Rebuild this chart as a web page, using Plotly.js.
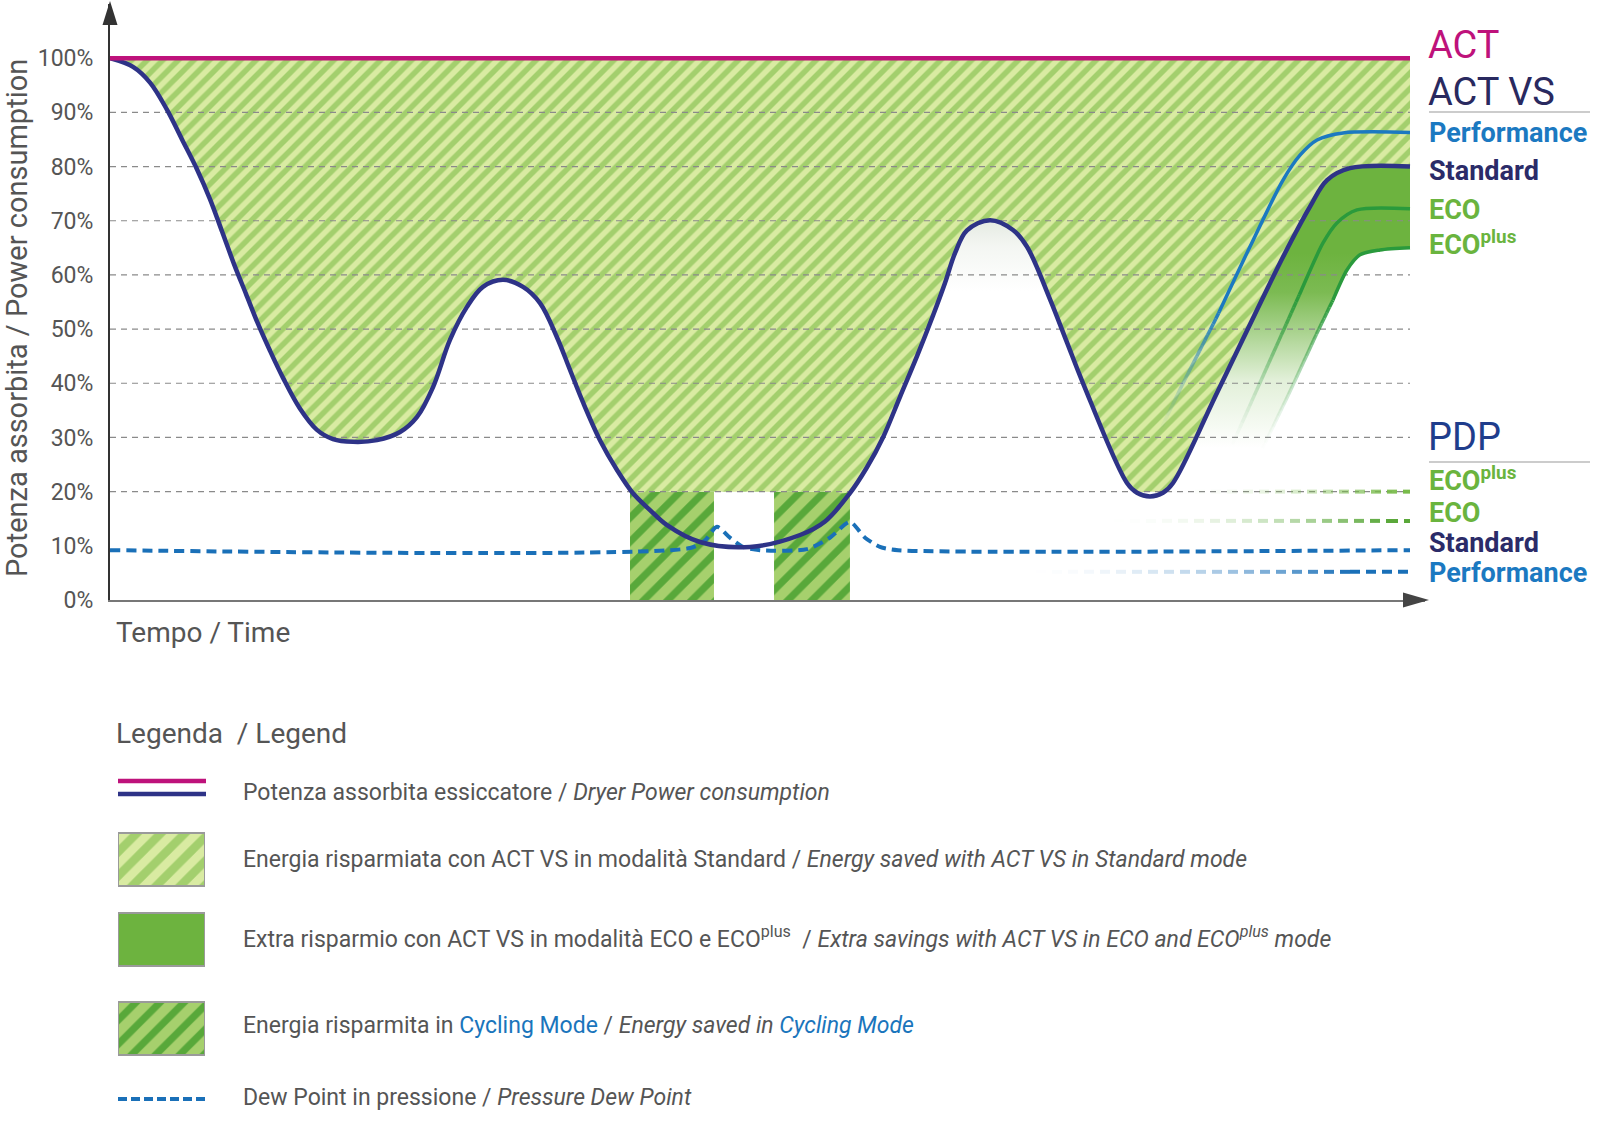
<!DOCTYPE html>
<html><head><meta charset="utf-8">
<script src="https://cdn.plot.ly/plotly-3.0.1.min.js"></script>
<style>html,body{margin:0;padding:0;background:#fff}#chart{width:1600px;height:1141px}</style>
</head><body><div id="chart"></div>
<script>
// ---------------- DATA (time in arbitrary units 0..100, power in %) ----------------
const actTime  = [0, 100];
const actPower = [100, 100];

const stdTime  = [0,1.77,3.08,4.38,5.54,6.69,7.69,8.62,9.54,10.46,11.38,12.31,13.31,14.62,15.92,17.15,18.69,20.54,22.31,23.62,24.85,26.15,27.46,28.69,30.23,31.77,33.08,34.38,35.38,36.38,37.69,39,40.23,41.54,42.85,45.38,49.23,53.08,55,56.85,58.23,59.46,60.77,62.08,63.31,64.23,65,65.92,67.69,69.46,70.54,72.31,73.62,74.85,78.23,79,80,81,81.77,85.15,90.23,92.31,93.62,95.38,100];
const stdPower = [100,98.4,95.5,90.5,85,79.5,74,68,62,56.5,51,46,41,35.3,31.4,29.7,29.2,29.5,31,33.8,39.3,48,54.1,57.8,59.1,57.8,54.8,48.5,42.5,36.5,29.5,24,19.7,16.6,13.8,10.7,9.8,12,14.5,19.5,24.5,30,37.5,45,52.5,58.5,64,68.2,70.1,68.3,65.2,55.5,47.5,40,21.6,19.8,19.1,19.8,21.6,38.2,63.3,72.6,77.5,79.7,80];

const perfTime  = [80.54,82.54,85.15,87.69,90.23,91.54,92.85,94.85,100];
const perfPower = [30.1,40,52.3,65.2,77.5,82.1,84.9,86.2,86.3];

const ecoTime  = [86.15,89,91.54,93.31,94.38,95.92,100];
const ecoPower = [27.7,43,56.6,65.9,69.6,72,72.2];

const ecoPlusTime  = [88.46,90.77,92.85,94.08,95.15,96.15,97.69,100];
const ecoPlusPower = [27,38.5,49.3,55.4,60.9,63.7,64.6,65];

const pdpStdTime  = [0,44.62,45.77,46.69,47.69,48.69,50,53.62,55.38,56.92,58.08,59.23,60.62,100];
const pdpStdValue = [9.2,9.6,11,13.5,11.5,9.8,9.2,9.4,11.5,14.4,11.5,9.8,9.2,9.2];

const pdpPerfTime = [70, 100],   pdpPerfValue = [5.2, 5.2];
const pdpEcoTime = [76, 100],    pdpEcoValue = [14.6, 14.6];
const pdpEcoPlusTime = [81, 100],pdpEcoPlusValue = [20, 20];

const cycleStart = [40, 51.08];
const cycleEnd   = [46.46, 56.92];
const cycleLevel = 20;          // cycling mode window height / savings floor

const gridLevels = [20,30,40,50,60,70,80,90];
const tickValues = [0,10,20,30,40,50,60,70,80,90,100];
const tickLabels = ['0%','10%','20%','30%','40%','50%','60%','70%','80%','90%','100%'];

// ---------------- STYLE / LAYOUT HELPERS ----------------
const W = 1600, H = 1141;
const PXT = 13, PXY = 596/110;
const px = v => v / W, py = v => 1 - v / H;
const SMOOTH = 1.0;

function fadedLine(xs, ys, fadePx, piecePx, power, lineStyle, restShape){
  const P = xs.map((x,i)=>[x*PXT, ys[i]*PXY]);
  const cum=[0];
  for(let i=1;i<P.length;i++) cum.push(cum[i-1]+Math.hypot(P[i][0]-P[i-1][0],P[i][1]-P[i-1][1]));
  const total = cum[cum.length-1];
  fadePx = Math.min(fadePx,total);
  function pointAt(d){
    for(let i=1;i<P.length;i++){ if(d<=cum[i]+1e-9){ const f=(d-cum[i-1])/((cum[i]-cum[i-1])||1); return [xs[i-1]+f*(xs[i]-xs[i-1]), ys[i-1]+f*(ys[i]-ys[i-1])]; } }
    return [xs[xs.length-1], ys[ys.length-1]];
  }
  function slice(d0,d1){
    const a=pointAt(d0), b=pointAt(d1); const X=[a[0]], Y=[a[1]];
    for(let i=0;i<P.length;i++){ if(cum[i]>d0+1e-9 && cum[i]<d1-1e-9){X.push(xs[i]);Y.push(ys[i]);} }
    X.push(b[0]); Y.push(b[1]); return [X,Y];
  }
  const out=[];
  for(let d=0; d<fadePx-1e-6; d+=piecePx){
    const d1=Math.min(d+piecePx,fadePx);
    const s=slice(d,d1);
    out.push({x:s[0],y:s[1],mode:'lines',line:Object.assign({},lineStyle,{shape:'linear'}),
      opacity:Math.pow((d+d1)/2/fadePx,power),hoverinfo:'skip',showlegend:false});
  }
  if(fadePx<total-1e-6){ const s=slice(fadePx,total);
    out.push({x:s[0],y:s[1],mode:'lines',line:Object.assign({},lineStyle,{shape:restShape||'linear',smoothing:0.8}),hoverinfo:'skip',showlegend:false}); }
  return out;
}

const C = {
  act:'#be127b', std:'#2e3387', perf:'#1b79c1', ecoLine:'#2a9a3c', ecoFill:'109,179,63',
  hatchBg:'#d9eba2', hatchFg:'#a3cf6d', cycBg:'#a6d06d', cycFg:'#58a83a', pdp:'#1a70b8',
  ecoTxt:'#6ab43e', grid:'#8a8a8a', text:'#555555'
};

const traces = [];
// baseline for hatch fill
traces.push({x:actTime, y:actPower, mode:'lines', line:{width:0}, hoverinfo:'skip', showlegend:false});
// energy saved in standard mode (hatched), floored at cycling level
traces.push({x:stdTime, y:stdPower.map(v=>Math.max(v,cycleLevel)), mode:'lines', line:{width:0, shape:'spline', smoothing:SMOOTH},
  fill:'tonexty', fillcolor:C.hatchBg,
  fillpattern:{shape:'/', bgcolor:C.hatchBg, fgcolor:C.hatchFg, fgopacity:1, size:11, solidity:0.5, fillmode:'replace'},
  hoverinfo:'skip', showlegend:false});
// soft shading under the 70% peak
const gi0 = stdTime.indexOf(62.08), gi1 = stdTime.indexOf(72.31);
traces.push({x:stdTime.slice(gi0,gi1+1), y:stdPower.slice(gi0,gi1+1), mode:'lines', line:{width:0, shape:'spline', smoothing:SMOOTH},
  fill:'toself', fillgradient:{type:'vertical', start:57, stop:70.5,
    colorscale:[[0,'rgba(210,220,205,0)'],[0.6,'rgba(210,220,205,0.25)'],[1,'rgba(205,215,200,0.55)']]},
  hoverinfo:'skip', showlegend:false});
// extra savings ECO / ECOplus
traces.push({x:ecoPlusTime, y:ecoPlusPower, mode:'lines', line:{width:0, shape:'spline', smoothing:0.8}, hoverinfo:'skip', showlegend:false});
const ri = stdTime.indexOf(81.77);
traces.push({x:stdTime.slice(ri), y:stdPower.slice(ri), mode:'lines', line:{width:0, shape:'spline', smoothing:SMOOTH},
  fill:'tonexty', fillgradient:{type:'vertical', start:28, stop:64,
    colorscale:[[0,'rgba('+C.ecoFill+',0)'],[0.35,'rgba('+C.ecoFill+',0.2)'],[0.8,'rgba('+C.ecoFill+',0.9)'],[1,'rgba('+C.ecoFill+',1)']]},
  hoverinfo:'skip', showlegend:false});
// gridlines
gridLevels.forEach(l=>traces.push({x:[0,100], y:[l,l], mode:'lines', line:{color:C.grid, width:1.2, dash:'6px,5px'}, hoverinfo:'skip', showlegend:false}));
// cycling mode windows
traces.push({type:'bar', x:cycleStart.map((s,i)=>(s+cycleEnd[i])/2), width:cycleStart.map((s,i)=>cycleEnd[i]-s),
  y:cycleStart.map(()=>cycleLevel), base:0,
  marker:{color:C.cycBg, line:{width:0}, pattern:{shape:'/', bgcolor:C.cycBg, fgcolor:C.cycFg, fgopacity:1, size:17, solidity:0.42, fillmode:'replace'}},
  hoverinfo:'skip', showlegend:false});
// PDP lines
traces.push({x:pdpStdTime, y:pdpStdValue, mode:'lines', line:{color:C.pdp, width:4, dash:'10px,6px', shape:'spline', smoothing:0.7}, hoverinfo:'skip', showlegend:false});
traces.push(...fadedLine(pdpPerfTime, pdpPerfValue, 330, 16, 2, {color:C.pdp, width:4, dash:'10px,6px'}));
traces.push(...fadedLine(pdpEcoTime, pdpEcoValue, 290, 16, 2.2, {color:'#5aa83a', width:4, dash:'10px,6px'}));
traces.push(...fadedLine(pdpEcoPlusTime, pdpEcoPlusValue, 240, 16, 2.2, {color:'#78bb4a', width:4, dash:'10px,6px'}));
// mode curves
traces.push(...fadedLine(perfTime, perfPower, 140, 6, 1.5, {color:C.perf, width:3.5}, 'spline'));
traces.push(...fadedLine(ecoTime, ecoPower, 170, 6, 1.6, {color:C.ecoLine, width:3.5}, 'spline'));
traces.push(...fadedLine(ecoPlusTime, ecoPlusPower, 170, 6, 1.6, {color:C.ecoLine, width:3.5}, 'spline'));
// ACT VS standard consumption
traces.push({x:stdTime, y:stdPower, mode:'lines', line:{color:C.std, width:4.5, shape:'spline', smoothing:SMOOTH}, hoverinfo:'skip', showlegend:false});
// ACT consumption
traces.push({x:actTime, y:actPower, mode:'lines', line:{color:C.act, width:4.5}, hoverinfo:'skip', showlegend:false});

// legend swatches (secondary axes in the legend area)
traces.push({type:'bar', xaxis:'x2', yaxis:'y2', x:[0.5], width:[1], base:[833], y:[53], cliponaxis:false,
  marker:{color:C.hatchBg, line:{color:'#9a9a9a', width:2}, pattern:{shape:'/', bgcolor:C.hatchBg, fgcolor:C.hatchFg, fgopacity:1, size:17, solidity:0.5, fillmode:'replace'}},
  hoverinfo:'skip', showlegend:false});
traces.push({type:'bar', xaxis:'x2', yaxis:'y2', x:[0.5], width:[1], base:[913], y:[53], cliponaxis:false,
  marker:{color:'#6db33f', line:{color:'#9a9a9a', width:2}}, hoverinfo:'skip', showlegend:false});
traces.push({type:'bar', xaxis:'x2', yaxis:'y2', x:[0.5], width:[1], base:[1002], y:[53], cliponaxis:false,
  marker:{color:C.cycBg, line:{color:'#9a9a9a', width:2}, pattern:{shape:'/', bgcolor:C.cycBg, fgcolor:C.cycFg, fgopacity:1, size:17, solidity:0.42, fillmode:'replace'}},
  hoverinfo:'skip', showlegend:false});

// ---------------- ANNOTATIONS ----------------
const ann = [];
function txt(text, x, y, font, opts){
  ann.push(Object.assign({text:text, x:px(x), y:py(y), xref:'paper', yref:'paper', xanchor:'left', yanchor:'middle',
    showarrow:false, font:font}, opts||{}));
}
const F = (size, color, family, weight) => ({family:family||'Roboto', size:size, color:color, weight:weight||400});
txt('Potenza assorbita / Power consumption', 17, 318, F(29, C.text), {xanchor:'center', textangle:-90});
txt('Tempo / Time', 114, 632, F(28, C.text));
txt('Legenda  / Legend', 114, 733, F(28, C.text));
const lf = F(23, C.text);
txt('Potenza assorbita essiccatore / <i>Dryer Power consumption</i>', 241, 792, lf);
txt('Energia risparmiata con ACT VS in modalità Standard / <i>Energy saved with ACT VS in Standard mode</i>', 241, 859, lf);
txt('Extra risparmio con ACT VS in modalità ECO e ECO<sup>plus</sup>  / <i>Extra savings with ACT VS in ECO and ECO<sup>plus</sup> mode</i>', 241, 937, lf);
txt('Energia risparmita in <span style="color:#1a75bc">Cycling Mode</span> / <i>Energy saved in <span style="color:#1a75bc">Cycling Mode</span></i>', 241, 1025, lf);
txt('Dew Point in pressione / <i>Pressure Dew Point</i>', 241, 1097, lf);

const MS = 27;
txt('ACT', 1426, 45, F(38, C.act));
txt('ACT VS', 1426, 92, F(38, '#29295f'));
txt('Performance', 1427, 133, F(MS, C.perf, 'Roboto', 700));
txt('Standard', 1427, 171, F(MS, '#2b2b68', 'Roboto', 700));
txt('ECO', 1427, 210, F(MS, C.ecoTxt, 'Roboto', 700));
txt('ECO<sup>plus</sup>', 1427, 243, F(MS, C.ecoTxt, 'Roboto', 700));
txt('PDP', 1426, 437, F(38, '#1f3d8c'));
txt('ECO<sup>plus</sup>', 1427, 479, F(MS, C.ecoTxt, 'Roboto', 700));
txt('ECO', 1427, 513, F(MS, C.ecoTxt, 'Roboto', 700));
txt('Standard', 1427, 543, F(MS, '#2b2b68', 'Roboto', 700));
txt('Performance', 1427, 573, F(MS, C.perf, 'Roboto', 700));

// ---------------- SHAPES ----------------
const shapes = [
  {type:'path', xref:'paper', yref:'paper', path:`M${px(110)},${py(1)} L${px(102.5)},${py(25)} L${px(117.5)},${py(25)} Z`, fillcolor:'#333', line:{width:0}},
  {type:'path', xref:'paper', yref:'paper', path:`M${px(1429)},${py(600)} L${px(1403)},${py(592.5)} L${px(1403)},${py(607.5)} Z`, fillcolor:'#444', line:{width:0}},
  {type:'line', xref:'paper', yref:'paper', x0:px(1429), x1:px(1590), y0:py(112), y1:py(112), line:{color:'#999', width:1.2}},
  {type:'line', xref:'paper', yref:'paper', x0:px(1429), x1:px(1590), y0:py(462), y1:py(462), line:{color:'#999', width:1.2}},
  {type:'line', xref:'paper', yref:'paper', x0:px(118), x1:px(206), y0:py(781), y1:py(781), line:{color:C.act, width:4.5}},
  {type:'line', xref:'paper', yref:'paper', x0:px(118), x1:px(206), y0:py(794), y1:py(794), line:{color:C.std, width:4.5}},
  {type:'line', xref:'paper', yref:'paper', x0:px(118), x1:px(206), y0:py(1099), y1:py(1099), line:{color:C.pdp, width:4, dash:'9px,4px'}}
];

const layout = {
  width:W, height:H, margin:{l:0,r:0,t:0,b:0}, paper_bgcolor:'#ffffff', plot_bgcolor:'rgba(0,0,0,0)',
  showlegend:false, barmode:'overlay', font:{family:'Roboto', color:C.text, size:14},
  xaxis:{domain:[px(110), px(1425)], range:[0, 1315/PXT], showgrid:false, zeroline:false, showticklabels:false,
    showline:true, linecolor:'#777', linewidth:2, ticks:'', fixedrange:true},
  yaxis:{domain:[py(600), py(4)], range:[0,110], showgrid:false, zeroline:false, showline:true, linecolor:'#333', linewidth:2,
    tickmode:'array', tickvals:tickValues, ticktext:tickLabels, ticks:'', ticklabelstandoff:10,
    tickfont:{family:'Roboto', size:23, color:C.text}, fixedrange:true},
  xaxis2:{domain:[px(118), px(205)], anchor:'y2', range:[0,1], visible:false, fixedrange:true},
  yaxis2:{domain:[py(1060), py(828)], anchor:'x2', range:[1060,828], visible:false, fixedrange:true},
  annotations:ann, shapes:shapes
};

Plotly.newPlot('chart', traces, layout, {staticPlot:true, displayModeBar:false});
</script></body></html>
